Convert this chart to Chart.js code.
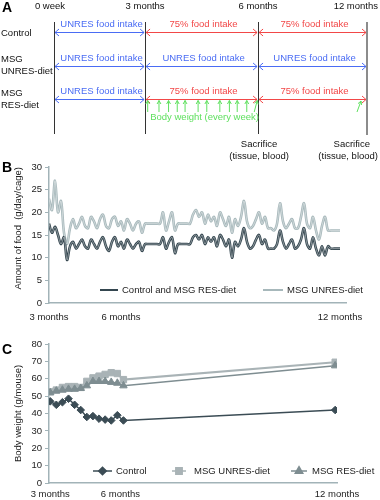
<!DOCTYPE html>
<html>
<head>
<meta charset="utf-8">
<script src="https://cdn.jsdelivr.net/npm/chart.js@4.4.0/dist/chart.umd.min.js"></script>
<style>
  html, body { margin: 0; padding: 0; background: #fff; width: 380px; height: 500px; overflow: hidden; }
  .panel { position: absolute; left: 0; width: 380px; }
  .letter { position: absolute; left: 2px; font: bold 14px "Liberation Sans", Arial, sans-serif; line-height: 14px; color: #000; }
</style>
</head>
<body>
<div class="panel" style="top:0;height:165px"><canvas id="timelineChart"></canvas></div>
<div class="panel" style="top:130px;height:200px"><canvas id="foodChart"></canvas></div>
<div class="panel" style="top:330px;height:172px"><canvas id="weightChart"></canvas></div>
<div class="letter" style="top:0px">A</div>
<div class="letter" style="top:160px">B</div>
<div class="letter" style="top:342px">C</div>
<script>
// ---- panel A: study design ----
const periods = ['0 week', '3 months', '6 months', '12 months'];
const groups = ['Control', 'MSG\nUNRES-diet', 'MSG\nRES-diet'];
const intake = [
  ['UNRES food intake', '75% food intake', '75% food intake'],
  ['UNRES food intake', 'UNRES food intake', 'UNRES food intake'],
  ['UNRES food intake', '75% food intake', '75% food intake']
];
const weighWeeks = [0.3, 1.6, 2.7, 3.7, 4.6, 6.1, 7.1, 8.6, 9.7, 10.6, 11.7, 12.9];
const weighLabel = 'Body weight (every week)';
const sacrificeLabel = ['Sacrifice', '(tissue, blood)'];

// ---- panel B: amount of food (g/day/cage) ----
const foodUnres = [
  23.0, 20.5, 27.0, 20.0, 22.5, 15.5, 13.0, 16.5, 18.5, 16.5,
  17.5, 19.0, 17.0, 16.5, 19.0, 18.0, 16.5, 18.5, 19.5, 17.0,
  16.5, 18.5, 19.0, 17.0, 18.0, 16.0, 18.5, 17.5, 16.0, 17.5,
  18.0, 15.5, 17.5, 17.5, 17.5, 17.5, 17.5, 17.5, 20.0, 16.0,
  18.0, 20.0, 16.0, 17.5, 17.5, 17.5, 17.5, 17.5, 19.5, 20.5,
  19.0, 20.0, 17.5, 19.5, 18.0, 19.0, 17.0, 20.0, 18.5, 17.0,
  19.0, 15.5, 18.5, 17.0, 19.0, 22.5, 18.0, 16.5, 17.0, 18.5,
  20.0, 17.5, 19.0, 16.5, 16.5, 16.0, 17.5, 22.0, 18.0, 16.5,
  17.5, 18.5, 16.5, 16.5, 19.0, 22.0, 17.5, 16.5, 19.0, 16.0,
  14.0, 17.0, 19.0, 16.0, 16.0, 16.0, 16.0, 16.0
];
const foodControl = [
  17.5, 15.5, 16.8, 15.0, 13.0, 14.5, 9.5, 12.5, 13.5, 12.0,
  13.0, 14.0, 12.5, 12.0, 14.0, 13.0, 12.0, 13.5, 14.5, 12.5,
  11.5, 13.5, 14.5, 12.5, 13.5, 12.0, 14.0, 13.0, 12.0, 13.0,
  13.5, 11.5, 13.0, 13.0, 13.0, 13.0, 13.0, 13.0, 14.5, 12.0,
  13.5, 14.5, 11.0, 13.0, 13.0, 13.0, 13.0, 13.0, 14.5, 15.0,
  14.0, 15.0, 13.0, 14.5, 13.5, 14.5, 12.5, 15.0, 14.0, 12.5,
  14.0, 10.0, 13.5, 12.5, 14.0, 16.5, 13.5, 12.0, 12.5, 14.0,
  15.0, 13.0, 14.0, 12.0, 12.0, 12.0, 13.0, 16.0, 13.5, 12.0,
  13.0, 14.0, 12.0, 12.5, 14.0, 16.5, 13.0, 12.0, 14.5, 12.0,
  10.5, 12.5, 10.5, 12.5, 12.0, 12.0, 12.0, 12.0
];
const foodDay = foodUnres.map((_, i) => i);
const foodTickAt = [0, 24, 97];
const foodTickText = ['3 months', '6 months', '12 months'];

// ---- panel C: body weight (g/mouse) ----
const weightWeek = [0, 1, 2, 3, 4, 5, 6, 7, 8, 9, 10, 11, 12, 46.7];
const weightControl = [47, 45, 46.5, 48.5, 45, 42, 38, 38.5, 37, 36.5, 36, 39, 36, 42];
const weightUnres = [52.5, 53.5, 55, 55.5, 55.5, 55, 58.5, 60.5, 61.5, 62.5, 63.5, 63, 59.5, 69.5];
const weightRes = [52, 53, 53.5, 54, 54, 54.5, 56, 58.5, 58.5, 58.5, 58, 57.5, 56, 67.5];
const weightTickAt = [0, 11.5, 47];
const weightTickText = ['3 months', '6 months', '12 months'];

const FONT = '"Liberation Sans", Arial, sans-serif';
const axisColor = '#a2b3b8';
const blue = '#4a6cf4';
const red = '#f24747';
const green = '#5fe05f';
Chart.defaults.font.family = FONT;
Chart.defaults.font.size = 9.5;
Chart.defaults.color = '#222';

function drawArrowLine(ctx, x1, x2, yy, color) {
  ctx.strokeStyle = color;
  ctx.lineWidth = 1;
  ctx.beginPath();
  ctx.moveTo(x1 + 1, yy);
  ctx.lineTo(x2 - 1, yy);
  ctx.moveTo(x1 + 5, yy - 3.5); ctx.lineTo(x1 + 1, yy); ctx.lineTo(x1 + 5, yy + 3.5);
  ctx.moveTo(x2 - 5, yy - 3.5); ctx.lineTo(x2 - 1, yy); ctx.lineTo(x2 - 5, yy + 3.5);
  ctx.stroke();
}

function drawUpArrow(ctx, bx, by, tx, ty) {
  const a = Math.atan2(ty - by, tx - bx);
  ctx.beginPath();
  ctx.moveTo(bx, by);
  ctx.lineTo(tx, ty);
  ctx.moveTo(tx - 4 * Math.cos(a - 0.5), ty - 4 * Math.sin(a - 0.5));
  ctx.lineTo(tx, ty);
  ctx.lineTo(tx - 4 * Math.cos(a + 0.5), ty - 4 * Math.sin(a + 0.5));
  ctx.stroke();
}

const timelinePlugin = {
  id: 'timeline',
  afterDraw(chart) {
    const { ctx, chartArea, scales: { x, y } } = chart;
    const colX = periods.map((_, i) => x.getPixelForValue(i));
    ctx.save();
    ctx.font = '9.5px ' + FONT;
    ctx.textBaseline = 'middle';

    colX.forEach((px, i) => {
      const last = i === colX.length - 1;
      ctx.strokeStyle = last ? '#8c8c8c' : '#333';
      ctx.lineWidth = last ? 2 : 1;
      const lx = last ? Math.round(px) : Math.round(px) + 0.5;
      ctx.beginPath();
      ctx.moveTo(lx, chartArea.top - 10);
      ctx.lineTo(lx, chartArea.bottom + (last ? 36 : 35));
      ctx.stroke();
    });

    ctx.fillStyle = '#111';
    periods.forEach((t, i) => {
      if (i === periods.length - 1) {
        ctx.textAlign = 'right';
        ctx.fillText(t, chart.width - 2, 6);
      } else {
        ctx.textAlign = 'center';
        ctx.fillText(t, colX[i] - (i === 0 ? 4 : 0), 6);
      }
    });

    ctx.textAlign = 'left';
    groups.forEach((g, r) => {
      const py = y.getPixelForValue(r);
      const lines = g.split('\n');
      ctx.fillStyle = '#111';
      if (lines.length === 1) {
        ctx.fillText(lines[0], 1, py + 1);
      } else {
        ctx.fillText(lines[0], 1, py - 6);
        ctx.fillText(lines[1], 1, py + 6);
      }
    });

    intake.forEach((row, r) => {
      const py = Math.round(y.getPixelForValue(r)) + 0.5;
      row.forEach((txt, k) => {
        const color = txt.startsWith('UNRES') ? blue : red;
        drawArrowLine(ctx, colX[k], colX[k + 1], py, color);
        ctx.fillStyle = color;
        ctx.textAlign = 'center';
        ctx.fillText(txt, (colX[k] + colX[k + 1]) / 2 + 2, py - 8);
      });
    });

    const py2 = y.getPixelForValue(2);
    ctx.strokeStyle = green;
    ctx.lineWidth = 1;
    const span = colX[2] - colX[1];
    weighWeeks.forEach((w) => {
      const px = colX[1] + (w / 13) * span;
      const lean = w > 12.5 ? 3 : 0;
      drawUpArrow(ctx, px - lean, py2 + 13, px, py2 + 1.5);
    });
    drawUpArrow(ctx, colX[3] - 10, py2 + 13, colX[3] - 6, py2 + 2);
    ctx.fillStyle = green;
    ctx.textAlign = 'center';
    ctx.fillText(weighLabel, colX[1] + span / 2 + 3, py2 + 18);

    ctx.fillStyle = '#111';
    ctx.fillText(sacrificeLabel[0], colX[2] + 1, 144);
    ctx.fillText(sacrificeLabel[1], colX[2] + 1, 156);
    ctx.textAlign = 'right';
    ctx.fillText(sacrificeLabel[0], chart.width - 10, 144);
    ctx.fillText(sacrificeLabel[1], chart.width - 2, 156);
    ctx.restore();
  }
};

new Chart(document.getElementById('timelineChart'), {
  type: 'line',
  data: { datasets: [] },
  options: {
    animation: false,
    responsive: true,
    maintainAspectRatio: false,
    devicePixelRatio: 1,
    layout: { padding: { left: 54, right: 13, top: 32, bottom: 66 } },
    plugins: { legend: { display: false }, tooltip: { enabled: false } },
    scales: {
      x: { type: 'linear', display: false, min: 0, max: 3,
        afterBuildTicks: (s) => { s.ticks = [{ value: 0 }, { value: 1 }, { value: 2 }, { value: 3 }]; } },
      y: { type: 'linear', display: false, min: 0, max: 2, reverse: true }
    }
  },
  plugins: [timelinePlugin]
});

// period boundaries are not evenly spaced in the schematic
Chart.getChart('timelineChart').scales.x.getPixelForValue = function (v) {
  const edges = [0, 0.291, 0.652, 1];
  const i = Math.min(Math.floor(v), 2);
  const f = edges[i] + (edges[i + 1] - edges[i]) * (v - i);
  return this.left + f * (this.right - this.left);
};
Chart.getChart('timelineChart').draw();

const lineLegend = {
  id: 'lineLegend',
  afterDraw(chart, args, opts) {
    const ctx = chart.ctx;
    ctx.save();
    chart.data.datasets.forEach((ds, i) => {
      const it = opts.items[i];
      if (!it) return;
      ctx.strokeStyle = ds.borderColor;
      ctx.fillStyle = ds.backgroundColor || ds.borderColor;
      ctx.lineWidth = opts.lineWidth;
      ctx.beginPath();
      ctx.moveTo(it.x, opts.y);
      ctx.lineTo(it.x + it.len, opts.y);
      ctx.stroke();
      if (ds.pointStyle && ds.pointRadius) {
        Chart.helpers.drawPoint(ctx, { pointStyle: ds.pointStyle, radius: ds.pointRadius, rotation: 0, borderWidth: 1 }, it.x + it.len / 2, opts.y);
      }
      ctx.fillStyle = '#222';
      ctx.font = '9.5px ' + FONT;
      ctx.textBaseline = 'middle';
      ctx.textAlign = 'left';
      ctx.fillText(ds.label, it.x + it.len + it.gap, opts.y + 0.5);
    });
    ctx.restore();
  }
};

function yAxis(max, step, title, align) {
  return {
    min: 0, max: max,
    afterFit: (s) => { s.width = 40; },
    ticks: { stepSize: step, padding: 3, color: '#222', font: { size: 9.5 } },
    grid: { display: true, drawOnChartArea: false, drawTicks: true, tickLength: 4, color: axisColor, lineWidth: 1 },
    border: { display: true, color: axisColor, width: 1.5 },
    title: { display: true, text: title, align: align, color: '#222', font: { size: 9.5 }, padding: { top: 4, bottom: 2 } }
  };
}

function xAxis(min, max, tickAt, tickText, height, pad) {
  return {
    type: 'linear', min: min, max: max,
    afterFit: (s) => { s.height = height; },
    afterBuildTicks: (s) => { s.ticks = tickAt.map((v) => ({ value: v })); },
    ticks: { padding: pad, maxRotation: 0, autoSkip: false, color: '#222', font: { size: 9.5 },
      callback: (v) => tickText[tickAt.indexOf(v)] },
    grid: { display: false, drawTicks: false },
    border: { display: true, color: axisColor, width: 1.5 }
  };
}

// thin light core drawn over each food line (double-stroke look of the original)
const core = { label: '', borderColor: 'rgba(255,255,255,0.55)', borderWidth: 0.8, pointRadius: 0, tension: 0.35, order: -1 };

new Chart(document.getElementById('foodChart'), {
  type: 'line',
  data: {
    labels: foodDay,
    datasets: [
      { label: 'Control and MSG RES-diet', data: foodControl, borderColor: '#34464f', borderWidth: 2.6, pointRadius: 0, tension: 0.35 },
      { label: 'MSG UNRES-diet', data: foodUnres, borderColor: '#a7b8bb', borderWidth: 2.6, pointRadius: 0, tension: 0.35 },
      Object.assign({ data: foodControl }, core),
      Object.assign({ data: foodUnres }, core)
    ]
  },
  options: {
    animation: false,
    responsive: true,
    maintainAspectRatio: false,
    devicePixelRatio: 1,
    layout: { padding: { top: 37, left: 9, right: 34, bottom: 0 } },
    plugins: {
      legend: { display: false },
      tooltip: { enabled: false },
      lineLegend: { y: 160, lineWidth: 2, items: [{ x: 100, len: 18, gap: 4 }, { x: 263, len: 20, gap: 4 }] }
    },
    scales: {
      x: xAxis(0, 99, foodTickAt, foodTickText, 27, 9),
      y: yAxis(30, 5, 'Amount of food  (g/day/cage)', 'end')
    }
  },
  plugins: [lineLegend]
});

new Chart(document.getElementById('weightChart'), {
  type: 'line',
  data: {
    labels: weightWeek,
    datasets: [
      { label: 'Control', data: weightControl, borderColor: '#3b4c55', backgroundColor: '#3b4c55', borderWidth: 1.5,
        pointStyle: 'rectRot', pointRadius: 3.8, pointBorderWidth: 1, order: 0 },
      { label: 'MSG UNRES-diet', data: weightUnres, borderColor: '#a9b3b6', backgroundColor: '#a9b3b6', borderWidth: 2,
        pointStyle: 'rect', pointRadius: 4.5, pointBorderWidth: 1, order: 2 },
      { label: 'MSG RES-diet', data: weightRes, borderColor: '#7e8d91', backgroundColor: '#7e8d91', borderWidth: 1.5,
        pointStyle: 'triangle', pointRadius: 4.3, pointBorderWidth: 1, order: 1 }
    ]
  },
  options: {
    animation: false,
    responsive: true,
    maintainAspectRatio: false,
    devicePixelRatio: 1,
    layout: { padding: { top: 14, left: 9, right: 43, bottom: 0 } },
    plugins: {
      legend: { display: false },
      tooltip: { enabled: false },
      lineLegend: { y: 141, lineWidth: 1.5, items: [{ x: 93, len: 19, gap: 4 }, { x: 172, len: 14, gap: 8 }, { x: 291, len: 16, gap: 5 }] }
    },
    scales: {
      x: xAxis(-0.2, 47, weightTickAt, weightTickText, 19, 6),
      y: yAxis(80, 10, 'Body weight (g/mouse)', 'center')
    }
  },
  plugins: [lineLegend]
});
</script>
</body>
</html>
